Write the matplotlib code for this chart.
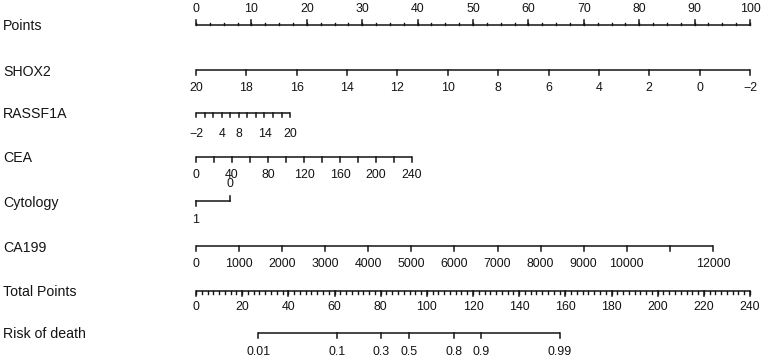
import numpy as np
import matplotlib
matplotlib.use("Agg")
import matplotlib.pyplot as plt

plt.rcParams['font.family'] = ['Liberation Sans', 'DejaVu Sans']

# ---- Daten ----
row_names = ["Points", "SHOX2", "RASSF1A", "CEA", "Cytology", "CA199",
             "Total Points", "Risk of death"]
row_y = [25, 70, 113, 157, 201, 246, 291, 333]   # Pixelzeilen

points_ticks = np.arange(0, 101, 10)
points_minor = np.arange(0, 100.1, 2.5)

shox2_ticks = [20, 18, 16, 14, 12, 10, 8, 6, 4, 2, 0, -2]
shox2_range = (20, -2)          # Wert -> 0 bzw. max Punkte
shox2_maxpts = 100.0

rassf1a_ticks = list(range(-2, 21, 2))
rassf1a_labels = [-2, 4, 8, 14, 20]
rassf1a_range = (-2, 20)
rassf1a_maxpts = 17.0

cea_ticks = list(range(0, 241, 20))
cea_labels = list(range(0, 241, 40))
cea_range = (0, 240)
cea_maxpts = 39.0

cyto_levels = ["1", "0"]
cyto_points = [0.0, 6.1]

ca199_ticks = list(range(0, 12001, 1000))
ca199_labels = [0, 1000, 2000, 3000, 4000, 5000, 6000, 7000, 8000, 9000, 10000, 12000]
ca199_range = (0, 12000)
ca199_maxpts = 93.3

total_ticks = np.arange(0, 241, 20)
total_minor = np.arange(0, 240.1, 2.5)
total_max = 240

risk_labels = [0.01, 0.1, 0.3, 0.5, 0.8, 0.9, 0.99]
risk_tp50 = 92.3      # Total Points bei Risiko 0.5
risk_scale = 14.2     # Total Points pro Logit-Einheit

# ---- Figur ----
W, H = 762, 360
fig = plt.figure(figsize=(W / 100, H / 100), dpi=100)
ax = fig.add_axes([0, 0, 1, 1])
px = 100 / 554.0                    # Punkte pro Pixel
ax.set_xlim(-196 * px, (W - 196) * px)
ax.set_ylim(H, 0)
ax.axis("off")

col = "#141414"
lw = 1.1
fs = 8.9


def scale(vals, rng, maxpts):
    vals = np.asarray(vals, dtype=float)
    return (vals - rng[0]) / (rng[1] - rng[0]) * maxpts


def draw_axis(y, xs, labels=None, label_x=None, side=1, tlen=5, minor=None, mlen=3, off=18):
    xs = np.asarray(xs)
    ax.plot([xs.min(), xs.max()], [y, y], color=col, lw=lw, solid_capstyle="butt")
    if minor is not None:
        for m in minor:
            ax.plot([m, m], [y, y + side * mlen], color=col, lw=lw * 0.9)
    for x in xs:
        ax.plot([x, x], [y, y + side * tlen], color=col, lw=lw)
    if labels is not None:
        for x, lab in zip(label_x, labels):
            ax.text(x, y + side * off, lab, ha="center", va="center", fontsize=fs, color=col)


def fmt(v):
    return str(v).replace("-", "\u2212")


for name, y in zip(row_names, row_y):
    ax.text(3 * px - 196 * px, y + 1.5, name, ha="left", va="center", fontsize=10.2, color=col)

# Points
draw_axis(row_y[0], points_ticks, [str(v) for v in points_ticks], points_ticks,
          side=-1, minor=points_minor, mlen=2.5, off=16)

# SHOX2
x = scale(shox2_ticks, shox2_range, shox2_maxpts)
draw_axis(row_y[1], x, [fmt(v) for v in shox2_ticks], x)

# RASSF1A
x = scale(rassf1a_ticks, rassf1a_range, rassf1a_maxpts)
draw_axis(row_y[2], x, [fmt(v) for v in rassf1a_labels],
          scale(rassf1a_labels, rassf1a_range, rassf1a_maxpts), tlen=4, off=21)

# CEA
x = scale(cea_ticks, cea_range, cea_maxpts)
draw_axis(row_y[3], x, [str(v) for v in cea_labels],
          scale(cea_labels, cea_range, cea_maxpts))

# Cytology (0 oben, 1 unten)
y = row_y[4]
ax.plot(cyto_points, [y, y], color=col, lw=lw)
ax.plot([cyto_points[0]] * 2, [y, y + 5], color=col, lw=lw)
ax.plot([cyto_points[1]] * 2, [y, y - 5], color=col, lw=lw)
ax.text(cyto_points[0], y + 19, cyto_levels[0], ha="center", va="center", fontsize=fs, color=col)
ax.text(cyto_points[1], y - 17, cyto_levels[1], ha="center", va="center", fontsize=fs, color=col)

# CA199
x = scale(ca199_ticks, ca199_range, ca199_maxpts)
draw_axis(row_y[5], x, [str(v) for v in ca199_labels],
          scale(ca199_labels, ca199_range, ca199_maxpts))

# Total Points
x = total_ticks * 100 / total_max
draw_axis(row_y[6], x, [str(v) for v in total_ticks], x,
          minor=total_minor * 100 / total_max, mlen=3, off=16)

# Risk of death
p = np.array(risk_labels)
tp = risk_tp50 + np.log(p / (1 - p)) * risk_scale
x = tp * 100 / total_max
draw_axis(row_y[7], x, [str(v) for v in risk_labels], x, off=19)

fig.savefig("out.png", dpi=100)
